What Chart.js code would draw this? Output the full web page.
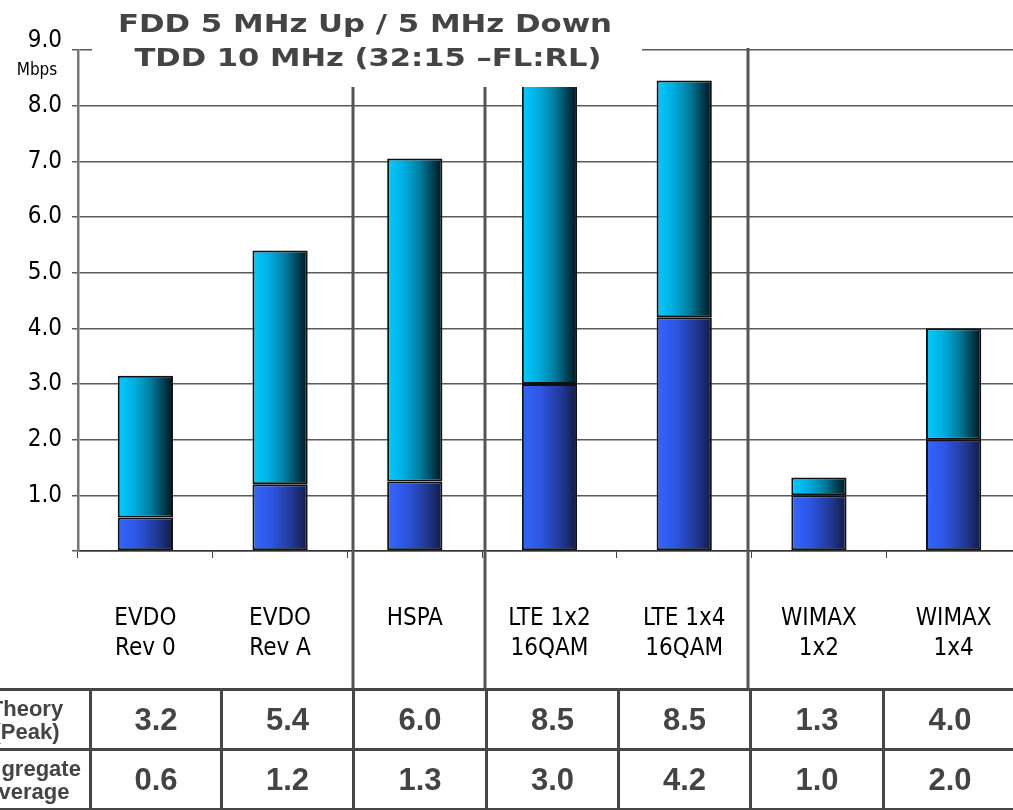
<!DOCTYPE html>
<html>
<head>
<meta charset="utf-8">
<script src="https://cdn.jsdelivr.net/npm/chart.js@4.4.1/dist/chart.umd.min.js"></script>
<style>
  html, body { margin: 0; padding: 0; background: #fff; overflow: hidden; width: 1013px; height: 810px; }
  #wrap { position: absolute; left: 0; top: 0; width: 1021px; height: 690px; }
  #tbl { position: absolute; left: -39px; top: 688px; width: 1054px; border-collapse: collapse; table-layout: fixed; }
  #tbl td { border: 3px solid #464646; height: 57px; padding: 0; text-align: center; color: #444;
    font-family: 'Liberation Sans', Arial, sans-serif; font-weight: bold; font-size: 31px; }
  #tbl td.head { font-size: 22px; line-height: 23px; }
</style>
</head>
<body>
<div id="wrap"><canvas id="chart"></canvas></div>
<table id="tbl"></table>
<script>
const categories = [['EVDO', 'Rev 0'], ['EVDO', 'Rev A'], 'HSPA', ['LTE 1x2', '16QAM'], ['LTE 1x4', '16QAM'], ['WIMAX', '1x2'], ['WIMAX', '1x4']];
const averageBars = [0.6, 1.2, 1.25, 3.0, 4.2, 1.0, 2.0];
const peakBars = [2.55, 4.2, 5.8, 5.5, 4.25, 0.32, 2.0]; // stacked on top of the average
const theoryRow = ['3.2', '5.4', '6.0', '8.5', '8.5', '1.3', '4.0'];
const averageRow = ['0.6', '1.2', '1.3', '3.0', '4.2', '1.0', '2.0'];
const rowHeads = [['Theory', '(Peak)'], ['Aggregate', 'Average']];
const titleLines = ['FDD 5 MHz Up / 5 MHz Down', 'TDD 10 MHz (32:15 \u2013FL:RL)'];
const unitLabel = 'Mbps';
const groupBreaks = [1.5, 2.5, 4.5];

const FONT = "'DejaVu Sans Condensed', 'DejaVu Sans', sans-serif";
const BAR_FRACTION = 0.41;

// table under the chart
const tbl = document.getElementById('tbl');
const colWidths = [128, 131, 132, 133, 132, 132, 133, 133];
const cg = document.createElement('colgroup');
colWidths.forEach((w) => {
  const c = document.createElement('col');
  c.style.width = w + 'px';
  cg.appendChild(c);
});
tbl.appendChild(cg);
[theoryRow, averageRow].forEach((row, r) => {
  const tr = document.createElement('tr');
  const th = document.createElement('td');
  th.className = 'head';
  th.innerHTML = rowHeads[r].join('<br>');
  tr.appendChild(th);
  row.forEach((v) => {
    const td = document.createElement('td');
    td.textContent = v;
    tr.appendChild(td);
  });
  tbl.appendChild(tr);
});

function barGradient(stops) {
  return (c) => {
    const chart = c.chart;
    if (!chart.chartArea || c.dataIndex === undefined) return stops[0][1];
    const x = chart.scales.x;
    const cx = x.getPixelForValue(c.dataIndex);
    const half = (x.width / categories.length) * BAR_FRACTION / 2;
    const g = chart.ctx.createLinearGradient(cx - half, 0, cx + half, 0);
    stops.forEach(([o, col]) => g.addColorStop(o, col));
    return g;
  };
}

// title text in the source is wide; stretch it to its width
function stretchedText(ctx, text, cx, cy, targetW) {
  const w = ctx.measureText(text).width;
  ctx.save();
  ctx.translate(cx, cy);
  ctx.scale(targetW / w, 1);
  ctx.fillText(text, 0, 0);
  ctx.restore();
}

const overlay = {
  id: 'overlay',
  afterDraw(chart) {
    const { ctx, scales: { x, y } } = chart;
    ctx.save();
    // group separators
    const nudge = [6, 3, -4];
    ctx.strokeStyle = '#555';
    ctx.lineWidth = 3;
    groupBreaks.forEach((b, i) => {
      const px = Math.round(x.getPixelForValue(b)) + nudge[i];
      ctx.beginPath();
      ctx.moveTo(px, y.getPixelForValue(9) - 2);
      ctx.lineTo(px, chart.height);
      ctx.stroke();
    });
    // title box
    ctx.fillStyle = '#fff';
    ctx.fillRect(92, 0, 550, 87);
    ctx.fillStyle = '#444';
    ctx.font = "bold 25px 'DejaVu Sans', sans-serif";
    ctx.textAlign = 'center';
    ctx.textBaseline = 'middle';
    stretchedText(ctx, titleLines[0], 365, 25, 494);
    stretchedText(ctx, titleLines[1], 368, 59, 467);
    // unit under the top tick
    ctx.fillStyle = '#000';
    ctx.font = '17px ' + FONT;
    ctx.fillText(unitLabel, 37, 71);
    ctx.restore();
  }
};

new Chart(document.getElementById('chart'), {
  type: 'bar',
  data: {
    labels: categories,
    datasets: [
      {
        label: 'Aggregate Average',
        data: averageBars,
        backgroundColor: barGradient([[0, '#3366ff'], [0.35, '#2d55e0'], [0.7, '#203a98'], [1, '#121a45']]),
        borderColor: '#111',
        borderWidth: 2,
        borderSkipped: false,
        barPercentage: BAR_FRACTION,
        categoryPercentage: 1,
      },
      {
        label: 'Theory (Peak)',
        data: peakBars,
        backgroundColor: barGradient([[0, '#00ccff'], [0.3, '#00aee0'], [0.6, '#007c9c'], [0.85, '#003a4c'], [1, '#00141c']]),
        borderColor: '#111',
        borderWidth: 2,
        borderSkipped: false,
        barPercentage: BAR_FRACTION,
        categoryPercentage: 1,
      },
    ],
  },
  options: {
    responsive: true,
    maintainAspectRatio: false,
    animation: false,
    layout: { padding: { top: 50, right: 0, bottom: 0, left: 0 } },
    plugins: {
      legend: { display: false },
      tooltip: { enabled: false },
    },
    scales: {
      x: {
        stacked: true,
        border: { color: '#333', width: 1.5 },
        grid: { offset: true, drawOnChartArea: false, drawTicks: true, tickLength: 7, color: '#444', lineWidth: 1 },
        ticks: {
          color: '#000',
          font: { family: FONT, size: 24, lineHeight: 1.25 },
          padding: 46,
          maxRotation: 0,
          autoSkip: false,
        },
        afterFit: (s) => { s.height = 139; s.paddingLeft = 0; s.paddingRight = 0; },
      },
      y: {
        stacked: true,
        min: 0,
        max: 9,
        border: { color: '#777', width: 2.5 },
        grid: { color: '#5a5a5a', lineWidth: 1.5, tickLength: 6 },
        ticks: {
          stepSize: 1,
          color: '#000',
          padding: 10,
          font: { family: FONT, size: 24, lineHeight: 0.8 },
          callback: (v) => (v === 0 ? '' : v === 9 ? ['9.0', ''] : v.toFixed(1)),
        },
        afterFit: (s) => { s.width = 78; },
      },
    },
  },
  plugins: [overlay],
});
</script>
</body>
</html>
